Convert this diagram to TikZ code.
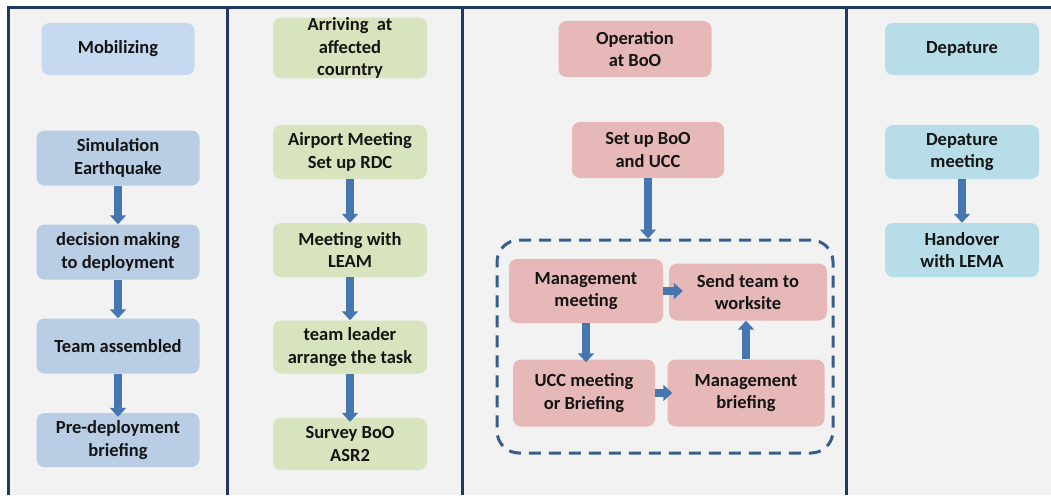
\documentclass[tikz,border=0pt]{standalone}
\usepackage{fontspec}
\setmainfont{Carlito}
\usepackage{tikz}
\usetikzlibrary{arrows.meta}

\definecolor{panel}{HTML}{F2F2F2}
\definecolor{frame}{HTML}{1F3864}
\definecolor{mobil}{HTML}{C6D9F1}
\definecolor{mobilstep}{HTML}{B9CDE5}
\definecolor{arrive}{HTML}{D7E4BD}
\definecolor{oper}{HTML}{E6B9B8}
\definecolor{depart}{HTML}{B7DEE8}
\definecolor{flow}{HTML}{4676B0}
\definecolor{loopline}{HTML}{385D8A}
\definecolor{ink}{HTML}{141414}

\begin{document}
\begin{tikzpicture}[x=1pt, y=-1pt,
  every node/.style={rounded corners=8pt, align=center, text=ink,
    font=\fontsize{18.5}{22.5}\selectfont\bfseries, inner sep=0pt}]
  \useasboundingbox (0,0) rectangle (1051,495);
  \tikzset{box/.style 2 args={minimum width=#1, minimum height=#2}}

  % panel and column rules
  \fill[white] (0,0) rectangle (1051,495);
  \fill[panel] (8,8) rectangle (1051,495);
  \draw[frame, line width=3pt] (8,495) -- (8,8) -- (1051,8);
  \foreach \x in {227,462,846}
    \draw[frame, line width=3pt] (\x,8) -- (\x,495);

  % mobilizing
  \node[fill=mobil, box={153}{52}] (mob) at (118,49) {Mobilizing};
  \node[fill=mobilstep, box={163}{55}] (sim) at (118,158) {Simulation\\Earthquake};
  \node[fill=mobilstep, box={163}{55}] (dec) at (118,252) {decision making\\to deployment};
  \node[fill=mobilstep, box={163}{55}] (tea) at (118,346) {Team assembled};
  \node[fill=mobilstep, box={163}{54}] (pre) at (118,440) {Pre-deployment\\briefing};

  % arriving
  \node[fill=arrive, box={154}{53}] (arr) at (350,48) {Arriving\ \ at\\affected\\courntry};
  \node[fill=arrive, box={154}{54}] (air) at (350,152) {Airport Meeting\\Set up RDC};
  \node[fill=arrive, box={154}{54}] (lea) at (350,250) {Meeting with\\LEAM};
  \node[fill=arrive, box={154}{53}] (ldr) at (350,347) {team leader\\arrange the task};
  \node[fill=arrive, box={154}{52}] (sur) at (350,444) {Survey BoO\\ASR2};

  % operation
  \node[fill=oper, box={153}{56}] (ope) at (635,49) {Operation\\at BoO};
  \node[fill=oper, box={152}{56}] (set) at (648,150) {Set up BoO\\and UCC};
  \node[draw=loopline, line width=3pt, dash pattern=on 12pt off 8pt,
        rounded corners=22pt, box={336}{213}] (cyc) at (665,346.5) {};
  \node[fill=oper, box={154}{64}] (mm) at (586,291) {Management\\meeting};
  \node[fill=oper, box={158}{57}] (snd) at (748,292) {Send team to\\worksite};
  \node[fill=oper, box={142}{67}] (ucc) at (584,393) {UCC meeting\\or Briefing};
  \node[fill=oper, box={157}{67}] (mb) at (746,393) {Management\\briefing};

  % depature
  \node[fill=depart, box={154}{52}] (dep) at (962,49) {Depature};
  \node[fill=depart, box={154}{54}] (dme) at (962,152) {Depature\\meeting};
  \node[fill=depart, box={154}{54}] (han) at (962,250) {Handover\\with LEMA};

  % block arrows
  \tikzset{flowarrow/.style={draw=flow, line width=8pt,
    -{Triangle[width=16pt, length=9pt]}}}
  \path (sim) edge [flowarrow] (dec);
  \path (dec) edge [flowarrow] (tea);
  \path (tea) edge [flowarrow, shorten >=-4pt] (pre);
  \path (air) edge [flowarrow] (lea);
  \path (lea) edge [flowarrow] (ldr);
  \path (ldr) edge [flowarrow, shorten >=-4pt] (sur);
  \path (set.south) edge [flowarrow] (set.south |- cyc.north);
  \path (mm.east) edge [flowarrow, shorten >=-14pt] (mm.east -| snd.west);
  \path (mm.south) edge [flowarrow, shorten >=-3pt] (mm.south |- ucc.north);
  \path (ucc.east) edge [flowarrow, shorten >=-5pt] (ucc.east -| mb.west);
  \path (mb.north) edge [flowarrow] (mb.north |- snd.south);
  \path (dme) edge [flowarrow] (han);
\end{tikzpicture}
\end{document}
